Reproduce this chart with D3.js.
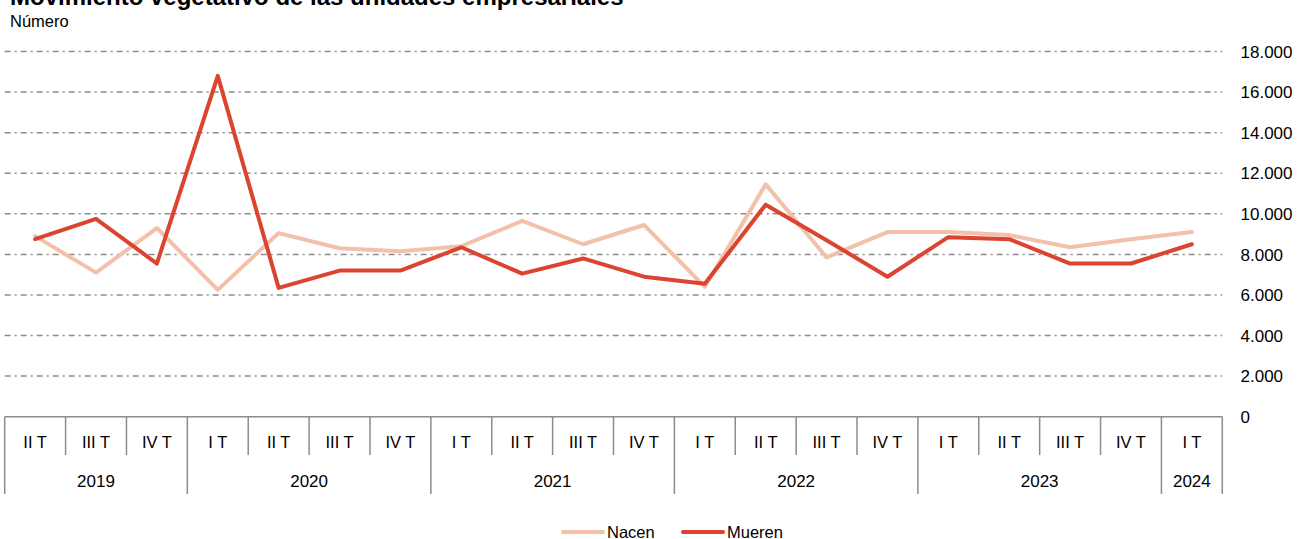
<!DOCTYPE html>
<html>
<head>
<meta charset="utf-8">
<script src="https://cdn.jsdelivr.net/npm/d3@7"></script>
<style>
  body {margin:0; background:#fff;}
  svg {display:block; font-family:Arial, "Liberation Sans", sans-serif;}
</style>
</head>
<body>
<svg width="1299" height="539"></svg>
<script>
// quarters along the x axis, one per point
var quarters = ["II T","III T","IV T","I T","II T","III T","IV T","I T","II T","III T","IV T",
                "I T","II T","III T","IV T","I T","II T","III T","IV T","I T"];
// years and how many quarters each one spans
var years = ["2019","2020","2021","2022","2023","2024"];
var yearSpan = [3, 4, 4, 4, 4, 1];
var nacen  = [8900, 7100, 9300, 6250, 9050, 8300, 8150, 8400, 9650, 8500, 9450,
              6400, 11450, 7850, 9100, 9100, 8950, 8350, 8750, 9100];
var mueren = [8750, 9750, 7550, 16800, 6350, 7200, 7200, 8350, 7050, 7800, 6900,
              6550, 10450, 8700, 6900, 8850, 8750, 7550, 7550, 8500];
var yTicks = [0, 2000, 4000, 6000, 8000, 10000, 12000, 14000, 16000, 18000];

var svg = d3.select("svg"),
    plotLeft = 4.7, plotRight = 1222.3,
    plotTop = 51.5, plotBottom = 416.7,
    gridColor = "#8c8c8c", axisColor = "#8c8c8c",
    cNacen = "#f3c0a9", cMueren = "#db4431";

var es = d3.formatLocale({decimal: ",", thousands: ".", grouping: [3], currency: ["", " €"]});
var fmt = es.format(",.0f");

var x = d3.scaleBand()
    .domain(d3.range(quarters.length))
    .range([plotLeft, plotRight]);

var y = d3.scaleLinear()
    .domain([0, 18000])
    .range([plotBottom, plotTop]);

// title (cut off at the top, as in the source)
svg.append("text")
    .attr("x", 10).attr("y", 5)
    .attr("font-size", 24).attr("font-weight", "bold")
    .text("Movimiento vegetativo de las unidades empresariales");
svg.append("text")
    .attr("x", 10).attr("y", 26.5)
    .attr("font-size", 16.5)
    .text("Número");

// grid
svg.append("g")
  .selectAll("line")
  .data(yTicks.filter(function(d) { return d > 0; }))
  .enter().append("line")
    .attr("x1", plotLeft).attr("x2", plotRight)
    .attr("y1", function(d) { return y(d); })
    .attr("y2", function(d) { return y(d); })
    .attr("stroke", gridColor)
    .attr("stroke-width", 1.5)
    .attr("stroke-dasharray", "6,4,2,4");

// y axis labels on the right
svg.append("g")
  .selectAll("text")
  .data(yTicks)
  .enter().append("text")
    .attr("x", 1240.5)
    .attr("y", function(d) { return y(d); })
    .attr("dy", "0.36em")
    .attr("font-size", 17)
    .text(function(d) { return fmt(d); });

// category axis
var xa = svg.append("g");
xa.append("line")
    .attr("x1", plotLeft).attr("x2", plotRight)
    .attr("y1", plotBottom).attr("y2", plotBottom)
    .attr("stroke", axisColor).attr("stroke-width", 1.5);

var yearStarts = [];
var acc = 0;
yearSpan.forEach(function(n) { yearStarts.push(acc); acc += n; });

d3.range(quarters.length + 1).forEach(function(i) {
  var px = i < quarters.length ? x(i) : plotRight;
  var isYear = yearStarts.indexOf(i) >= 0 || i == quarters.length;
  xa.append("line")
      .attr("x1", px).attr("x2", px)
      .attr("y1", plotBottom).attr("y2", isYear ? 494 : 455)
      .attr("stroke", axisColor).attr("stroke-width", 1.5);
});

xa.selectAll("text.q")
  .data(quarters)
  .enter().append("text")
    .attr("class", "q")
    .attr("x", function(d, i) { return x(i) + x.bandwidth() / 2; })
    .attr("y", 448)
    .attr("text-anchor", "middle")
    .attr("font-size", 16.5)
    .text(function(d) { return d; });

xa.selectAll("text.yr")
  .data(years)
  .enter().append("text")
    .attr("class", "yr")
    .attr("x", function(d, i) { return x(yearStarts[i]) + x.bandwidth() * yearSpan[i] / 2; })
    .attr("y", 487)
    .attr("text-anchor", "middle")
    .attr("font-size", 17)
    .text(function(d) { return d; });

// lines
var line = d3.line()
    .x(function(d, i) { return x(i) + x.bandwidth() / 2; })
    .y(function(d) { return y(d); });

[[nacen, cNacen], [mueren, cMueren]].forEach(function(s) {
  svg.append("path")
      .datum(s[0])
      .attr("d", line)
      .attr("fill", "none")
      .attr("stroke", s[1])
      .attr("stroke-width", 4)
      .attr("stroke-linejoin", "round")
      .attr("stroke-linecap", "round");
});

// legend
var legend = [["Nacen", cNacen, 563], ["Mueren", cMueren, 683]];
var lg = svg.append("g").selectAll("g").data(legend).enter().append("g");
lg.append("line")
    .attr("x1", function(d) { return d[2]; })
    .attr("x2", function(d) { return d[2] + 40; })
    .attr("y1", 532).attr("y2", 532)
    .attr("stroke", function(d) { return d[1]; })
    .attr("stroke-width", 4)
    .attr("stroke-linecap", "round");
lg.append("text")
    .attr("x", function(d) { return d[2] + 44; })
    .attr("y", 537.7)
    .attr("font-size", 16.5)
    .text(function(d) { return d[0]; });
</script>
</body>
</html>
